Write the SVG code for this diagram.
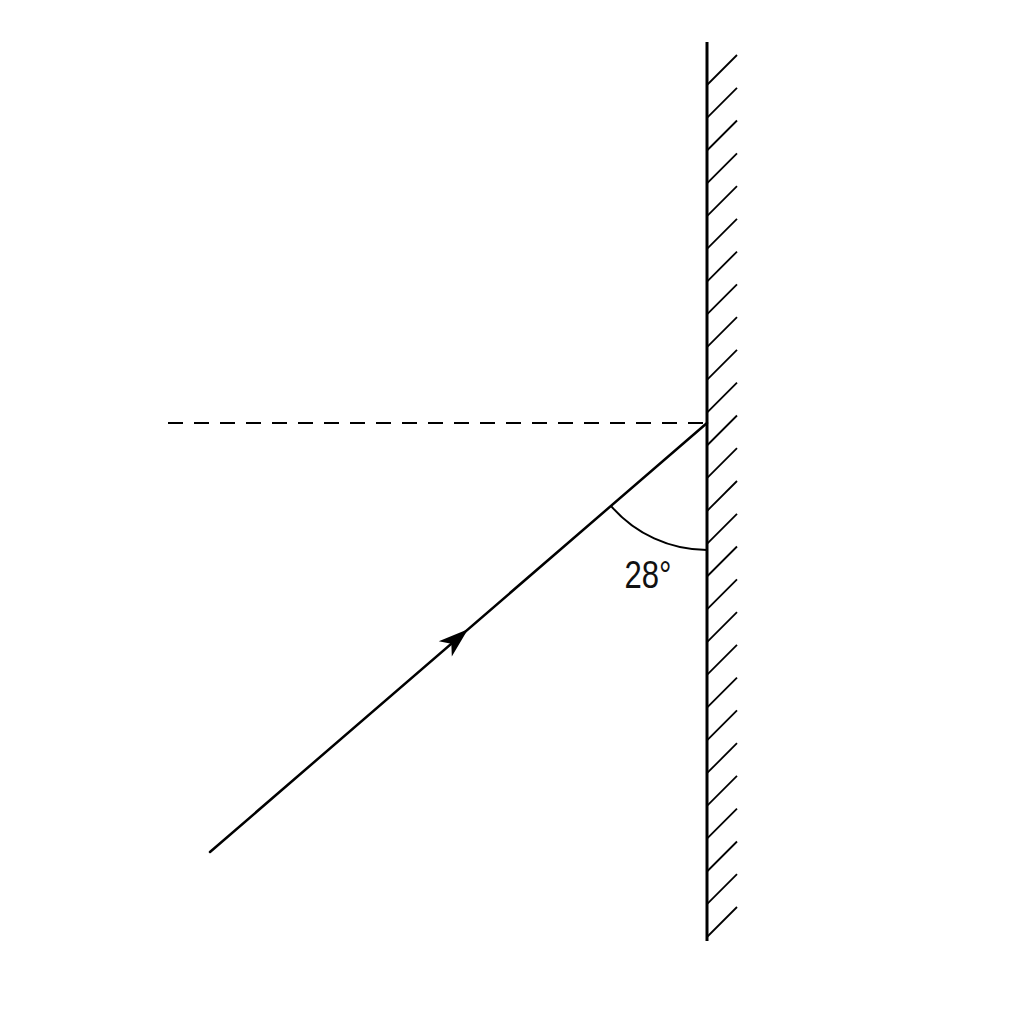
<svg xmlns="http://www.w3.org/2000/svg" width="1024" height="1024" viewBox="0 0 1024 1024">
<style>
.mirror{stroke:#000;stroke-width:3;fill:none}
.hatch{stroke:#000;stroke-width:1.8;fill:none}
.ray{stroke:#000;stroke-width:2.5;fill:none}
.dash{stroke:#000;stroke-width:2;fill:none;stroke-dasharray:15 11}
.arc{stroke:#000;stroke-width:2;fill:none}
.lbl{font-family:"Liberation Sans",Arial,sans-serif;font-size:38px;fill:#111}
</style>
<rect width="1024" height="1024" fill="#fff"/>
<g id="mirror">
<line class="mirror" x1="707" y1="42" x2="707" y2="941"/>
<g id="hatching">
<line class="hatch" x1="707" y1="85" x2="737" y2="55"/>
<line class="hatch" x1="707" y1="117.8" x2="737" y2="87.8"/>
<line class="hatch" x1="707" y1="150.5" x2="737" y2="120.5"/>
<line class="hatch" x1="707" y1="183.3" x2="737" y2="153.3"/>
<line class="hatch" x1="707" y1="216.1" x2="737" y2="186.1"/>
<line class="hatch" x1="707" y1="248.8" x2="737" y2="218.8"/>
<line class="hatch" x1="707" y1="281.6" x2="737" y2="251.6"/>
<line class="hatch" x1="707" y1="314.4" x2="737" y2="284.4"/>
<line class="hatch" x1="707" y1="347.2" x2="737" y2="317.2"/>
<line class="hatch" x1="707" y1="379.9" x2="737" y2="349.9"/>
<line class="hatch" x1="707" y1="412.7" x2="737" y2="382.7"/>
<line class="hatch" x1="707" y1="445.5" x2="737" y2="415.5"/>
<line class="hatch" x1="707" y1="478.2" x2="737" y2="448.2"/>
<line class="hatch" x1="707" y1="511" x2="737" y2="481"/>
<line class="hatch" x1="707" y1="543.8" x2="737" y2="513.8"/>
<line class="hatch" x1="707" y1="576.5" x2="737" y2="546.5"/>
<line class="hatch" x1="707" y1="609.3" x2="737" y2="579.3"/>
<line class="hatch" x1="707" y1="642.1" x2="737" y2="612.1"/>
<line class="hatch" x1="707" y1="674.8" x2="737" y2="644.8"/>
<line class="hatch" x1="707" y1="707.6" x2="737" y2="677.6"/>
<line class="hatch" x1="707" y1="740.4" x2="737" y2="710.4"/>
<line class="hatch" x1="707" y1="773.2" x2="737" y2="743.2"/>
<line class="hatch" x1="707" y1="805.9" x2="737" y2="775.9"/>
<line class="hatch" x1="707" y1="838.7" x2="737" y2="808.7"/>
<line class="hatch" x1="707" y1="871.5" x2="737" y2="841.5"/>
<line class="hatch" x1="707" y1="904.2" x2="737" y2="874.2"/>
<line class="hatch" x1="707" y1="937" x2="737" y2="907"/>
</g>
</g>
<g id="connectors">
<line id="normal" class="dash" x1="168" y1="423" x2="705" y2="423"/>
<line id="ray" class="ray" x1="210" y1="852" x2="707" y2="423" stroke-linecap="round"/>
<path id="arrowhead" d="M0,0 L-30,-10 L-22,0 L-30,10 Z" fill="#000" transform="translate(468,629.3) rotate(-40.8)"/>
<path id="angle-arc" class="arc" d="M610.9,505.9 A127,127 0 0 0 707,550"/>
</g>
<text class="lbl" x="648" y="588" text-anchor="middle" textLength="47" lengthAdjust="spacingAndGlyphs">28°</text>
</svg>
